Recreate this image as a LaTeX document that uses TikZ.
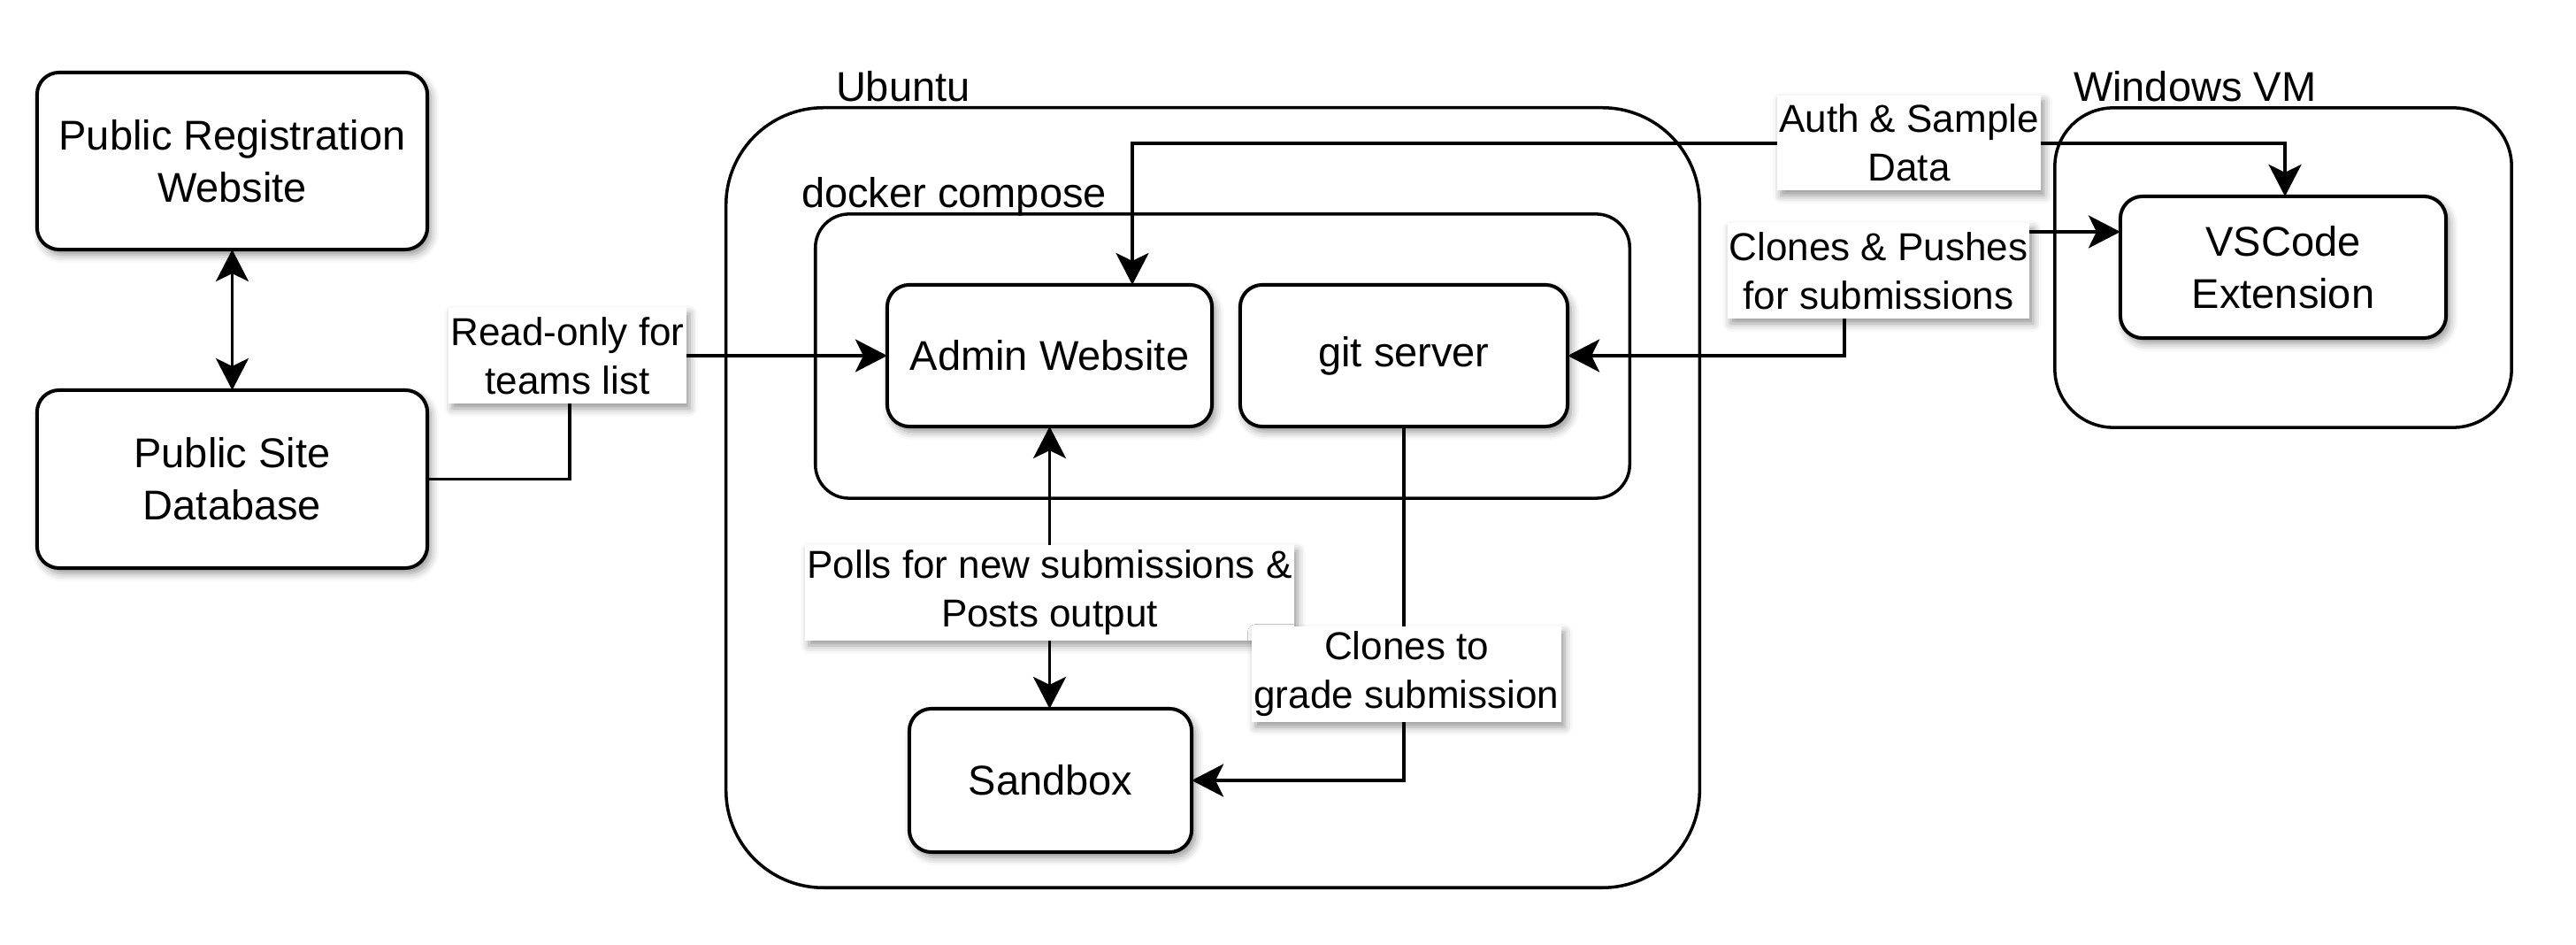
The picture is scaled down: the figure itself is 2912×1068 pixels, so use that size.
\documentclass[tikz,border=0pt]{standalone}
\usepackage{fontspec}
\setmainfont{Liberation Sans}
\usetikzlibrary{arrows.meta,calc,shadows.blur}
\begin{document}
\begin{tikzpicture}[x=0.01cm,y=-0.01cm,
  every node/.style={inner sep=0pt, outer sep=0pt},
  boxfont/.style={font=\fontsize{13.37}{16.8}\selectfont},
  lblfont/.style={font=\fontsize{12.52}{15.65}\selectfont},
  sh/.style={blur shadow={shadow xshift=0.04cm, shadow yshift=-0.06cm, shadow blur radius=0.09cm, shadow opacity=42}},
  comp/.style={draw, line width=1.14pt, rounded corners=0.25cm, fill=white, align=center, boxfont, sh},
  lbl/.style={fill=white, align=center, lblfont, inner xsep=0.02cm, minimum height=1.07cm, sh},
  cont/.style={draw, line width=1pt},
  ttl/.style={anchor=base west, boxfont},
  conn/.style={line width=0.95pt},
  arr/.style={-{Stealth[length=0.36cm,width=0.37cm,inset=0.09cm]}},
  darr/.style={{Stealth[length=0.36cm,width=0.37cm,inset=0.09cm]}-{Stealth[length=0.36cm,width=0.37cm,inset=0.09cm]}}
]
\useasboundingbox (0,0) rectangle (2912,1068);

% containers
\node[cont, minimum width=11.00cm, minimum height=8.81cm, rounded corners=1.1cm] (ubuntu) at (1371,562.5) {};
\node[cont, minimum width=9.20cm, minimum height=3.21cm, rounded corners=0.38cm] (docker) at (1382,402.5) {};
\node[cont, minimum width=5.16cm, minimum height=3.61cm, rounded corners=0.66cm] (winvm) at (2581,302.5) {};
\node[ttl] (tubuntu) at (945,115) {Ubuntu};
\node[ttl] (tdocker) at (906,235) {docker compose};
\node[ttl] (twin) at (2344,115) {Windows VM};

% components
\node[comp, minimum width=4.41cm, minimum height=2.00cm] (prw) at (262.5,182) {Public Registration\\Website};
\node[comp, minimum width=4.41cm, minimum height=2.01cm] (psd) at (262.5,541.5) {Public Site\\Database};
\node[comp, minimum width=3.67cm, minimum height=1.60cm] (admin) at (1186.5,402) {Admin Website};
\node[comp, minimum width=3.70cm, minimum height=1.60cm] (git) at (1587,402) {git server};
\node[comp, minimum width=3.19cm, minimum height=1.62cm] (sandbox) at (1187.5,882) {Sandbox};
\node[comp, minimum width=3.68cm, minimum height=1.60cm] (vscode) at (2581,302) {VSCode\\Extension};

% connectors
\draw[conn, darr] (prw) -- (psd);
\draw[conn, arr] (psd.east) -- ++(161,0) |- (admin.west);
\draw[conn, darr] ($(admin.north)+(93.5,0)$) -- ++(0,-160) -| ($(vscode.north)+(2,0)$);
\draw[conn, darr] (git.east) -- ++(313,0) |- ($(vscode.west)+(0,-40)$);
\draw[conn, darr] (admin.south) -- (admin.south |- sandbox.north);
\draw[conn, arr] (git.south) |- (sandbox.east);

% labels
\node[lbl] (l1) at (641.5,402) {Read-only for\\teams list};
\node[lbl] (l2) at (2158,161.5) {Auth \& Sample\\Data};
\node[lbl] (l3) at (2123.5,306) {Clones \& Pushes\\for submissions};
\node[lbl] (l4) at (1186.5,670) {Polls for new submissions \&\\Posts output};
\node[lbl] (l5) at (1590,762) {Clones to\\grade submission};
\end{tikzpicture}
\end{document}
